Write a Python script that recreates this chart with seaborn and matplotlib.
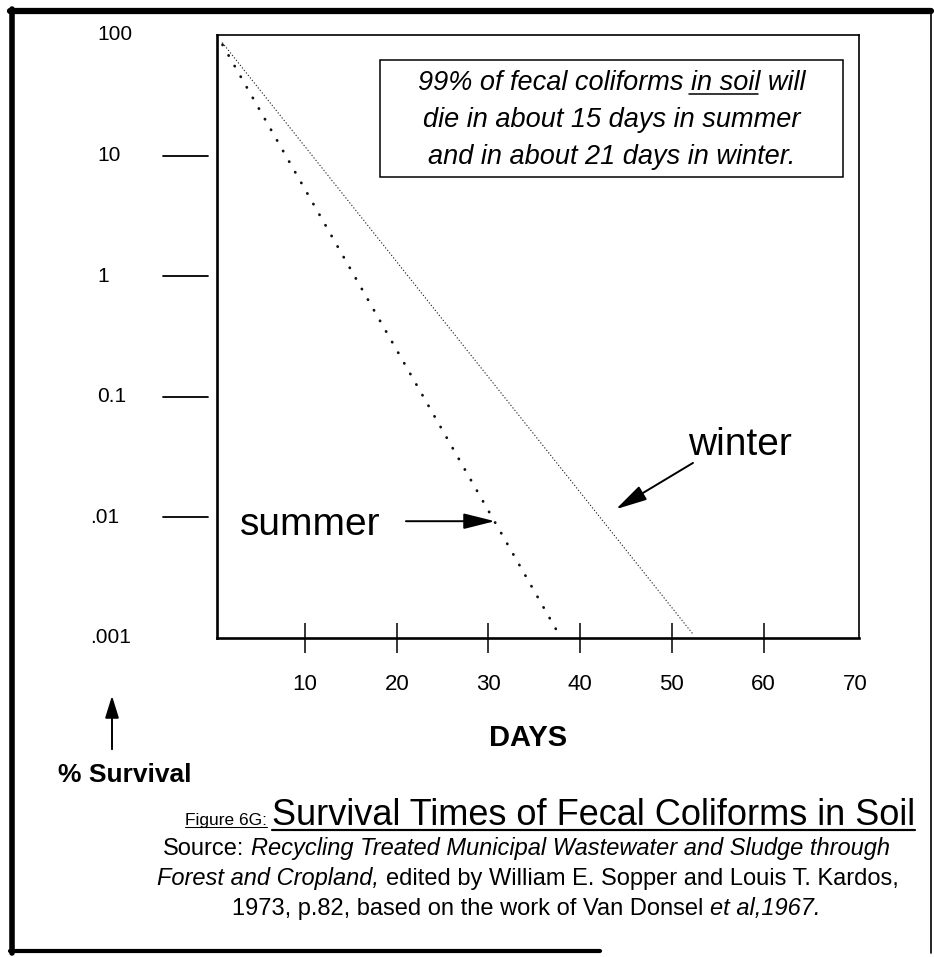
import matplotlib
matplotlib.use("Agg")
import matplotlib.pyplot as plt
import matplotlib.transforms as mtransforms
from matplotlib import font_manager
from matplotlib.lines import Line2D
from matplotlib.patches import Rectangle, FancyArrowPatch
import numpy as np
import pandas as pd
import seaborn as sns

# Fecal coliform survival (% of initial population) versus days
summer_days = [1.0, 37.6]
summer_survival = [83.0, 0.0011]
winter_days = [1.0, 52.2]
winter_survival = [86.0, 0.0011]

day_ticks = [10, 20, 30, 40, 50, 60, 70]
day_tick_labels = ["10", "20", "30", "40", "50", "60", "70"]
survival_ticks = [100, 10, 1, 0.1, 0.01, 0.001]
survival_tick_labels = ["100", "10", "1", "0.1", ".01", ".001"]

# arrows pointing at each curve: (tail, head) in (days, % survival)
summer_arrow = [(21.0, 0.0093), (30.7, 0.0093)]
winter_arrow = [(52.3, 0.0283), (43.9, 0.0117)]

note_lines = ["99% of fecal coliforms in soil will",
              "die in about 15 days in summer",
              "and in about 21 days in winter."]
note_underlined = "in soil"

sns.set_theme(style="white")
plt.rcParams["font.family"] = ["Liberation Sans", "DejaVu Sans"]
plt.rcParams["text.color"] = "black"
plt.rcParams["axes.labelcolor"] = "black"
plt.rcParams["xtick.color"] = "black"
plt.rcParams["ytick.color"] = "black"

available = {f.name for f in font_manager.fontManager.ttflist}
if "Liberation Sans Narrow" in available:
    NARROW = ["Liberation Sans Narrow", "Liberation Sans"]
    title_size, fig_label_size, source_size = 31, 14, 20.5
else:
    NARROW = ["Liberation Sans", "DejaVu Sans"]
    title_size, fig_label_size, source_size = 26, 12.5, 17

W, H, DPI = 934, 957, 100
fig = plt.figure(figsize=(W / DPI, H / DPI), dpi=DPI)
fig.patch.set_facecolor("white")


def fx(px):
    return px / W


def fy(py):
    return 1 - py / H


ax = fig.add_axes([fx(217), fy(638), fx(859) - fx(217), fy(35) - fy(638)])
ax.set_facecolor("white")

df = pd.concat([
    pd.DataFrame({"days": summer_days, "survival": summer_survival, "season": "summer"}),
    pd.DataFrame({"days": winter_days, "survival": winter_survival, "season": "winter"}),
], ignore_index=True)

sns.lineplot(data=df[df.season == "winter"], x="days", y="survival", ax=ax,
             color="#333333", linewidth=1.0, linestyle=(0, (0.1, 2.2)),
             dash_capstyle="round", legend=False)
sns.lineplot(data=df[df.season == "summer"], x="days", y="survival", ax=ax,
             color="#111111", linewidth=2.0, linestyle=(0, (0.1, 4.3)),
             dash_capstyle="round", legend=False)

ax.set_yscale("log")
ax.set_xlim(0.4, 70.4)
ax.set_ylim(0.001, 100)
ax.set_xlabel("")
ax.set_ylabel("")

for side, lw in [("left", 1.9), ("bottom", 1.9), ("top", 1.2), ("right", 1.2)]:
    ax.spines[side].set_visible(True)
    ax.spines[side].set_color("black")
    ax.spines[side].set_linewidth(lw)

# x axis: crossing tick marks, no mark at the right edge
ax.set_xticks(day_ticks)
ax.set_xticklabels(day_tick_labels)
ax.tick_params(axis="x", which="major", direction="inout", length=21.6, width=1.1,
               color="black", pad=15, labelsize=16, labelcolor="black", bottom=True)
ax.xaxis.get_major_ticks()[-1].tick1line.set_visible(False)
ax.minorticks_off()

# y axis: labels far left, free-standing dashes
ax.tick_params(axis="y", which="both", left=False, right=False, labelleft=False)
ytrans = mtransforms.blended_transform_factory(fig.transFigure, ax.transData)
for val, lab in zip(survival_ticks, survival_tick_labels):
    x0 = 90 if lab.startswith(".") else 97
    ax.text(fx(x0), val, lab, transform=ytrans, ha="left", va="center",
            fontsize=15, color="black", clip_on=False)
    if val not in (max(survival_ticks), min(survival_ticks)):
        ax.add_line(Line2D([fx(163), fx(208)], [val, val], transform=ytrans,
                           color="black", lw=1.3, clip_on=False))

# curve labels and arrows
arrow_style = "-|>,head_length=0.48,head_width=0.12"
for (tail, head) in (summer_arrow, winter_arrow):
    ax.annotate("", xy=head, xytext=tail, xycoords="data", textcoords="data",
                arrowprops=dict(arrowstyle=arrow_style, color="black", lw=1.4,
                                mutation_scale=40, shrinkA=0, shrinkB=0))
fig.text(fx(240), fy(535), "summer", fontsize=28, ha="left", va="baseline")
fig.text(fx(688), fy(455), "winter", fontsize=28, ha="left", va="baseline")

# axis titles
fig.text(fx(528), fy(738), "DAYS", fontsize=21, fontweight="bold", ha="center", va="center")
fig.text(fx(125), fy(775), "% Survival", fontsize=19, fontweight="bold", ha="center", va="center")
fig.add_artist(FancyArrowPatch(
    (fx(112), fy(752)), (fx(112), fy(693)), transform=fig.transFigure,
    arrowstyle="-|>,head_length=0.45,head_width=0.14", mutation_scale=30,
    color="black", lw=1.4))

fig.canvas.draw()
renderer = fig.canvas.get_renderer()


def text_width(s, **kw):
    t = fig.text(0, 0, s, **kw)
    w = t.get_window_extent(renderer).width
    t.remove()
    return w


def draw_runs(runs, cx, baseline, gap_scale=1.0):
    """Draw a line of differently styled pieces, centred on cx (pixels)."""
    widths = [text_width(s, **kw) for s, kw, _ in runs]
    gaps = []
    for s, kw, _ in runs[:-1]:
        gaps.append((text_width("a a", **kw) - text_width("aa", **kw)) * gap_scale)
    total = sum(widths) + sum(gaps)
    x = cx - total / 2
    for i, ((s, kw, ul), w) in enumerate(zip(runs, widths)):
        fig.text(fx(x), fy(baseline), s, ha="left", va="baseline", **kw)
        if ul:
            off = kw.get("fontsize", 12) * 0.18
            fig.add_artist(Line2D([fx(x), fx(x + w)], [fy(baseline + off)] * 2,
                                  color="black", lw=kw.get("fontsize", 12) * 0.06))
        x += w + (gaps[i] if i < len(gaps) else 0)


# note box
box = Rectangle((fx(380), fy(177)), fx(843) - fx(380), fy(60) - fy(177),
                transform=fig.transFigure, fill=True, facecolor="white",
                edgecolor="black", lw=1.1)
fig.add_artist(box)
note_kw = dict(fontsize=19.5, style="italic", color="black")
for line, base in zip(note_lines, [90, 127, 164]):
    fig.text(fx(611.5), fy(base), line, ha="center", va="baseline", **note_kw)
    if note_underlined in line:
        full_w = text_width(line, **note_kw)
        end = line.index(note_underlined) + len(note_underlined)
        pre_w = text_width(line[:end], **note_kw)
        word_w = text_width(note_underlined, **note_kw)
        left = 611.5 - full_w / 2
        fig.add_artist(Line2D([fx(left + pre_w - word_w - 2), fx(left + pre_w - 2)],
                              [fy(base + 3.5)] * 2, color="black", lw=1.1))

# caption
small = dict(fontsize=fig_label_size, family=NARROW, color="black")
big = dict(fontsize=title_size, family=NARROW, color="black")
reg = dict(fontsize=source_size, family=NARROW, color="black")
ital = dict(fontsize=source_size, family=NARROW, style="italic", color="black")

draw_runs([("Figure 6G:", small, True),
           ("Survival Times of Fecal Coliforms in Soil", big, True)], 550, 825)
draw_runs([("Source:", reg, False),
           ("Recycling Treated Municipal Wastewater and Sludge through", ital, False)], 526, 855)
draw_runs([("Forest and Cropland,", ital, False),
           ("edited by William E. Sopper and Louis T. Kardos,", reg, False)], 528, 885)
draw_runs([("1973, p.82, based on the work of Van Donsel", reg, False),
           ("et al,1967.", ital, False)], 526, 915)

# page frame
for (x0, y0, x1, y1, lw) in [(12, 9, 12, 953, 4.0), (10, 11, 931, 11, 4.5),
                             (10, 951, 600, 951, 3.0), (931, 9, 931, 953, 1.2)]:
    fig.add_artist(Line2D([fx(x0), fx(x1)], [fy(y0), fy(y1)], color="black", lw=lw))

fig.savefig("out.png", dpi=DPI, facecolor="white")
